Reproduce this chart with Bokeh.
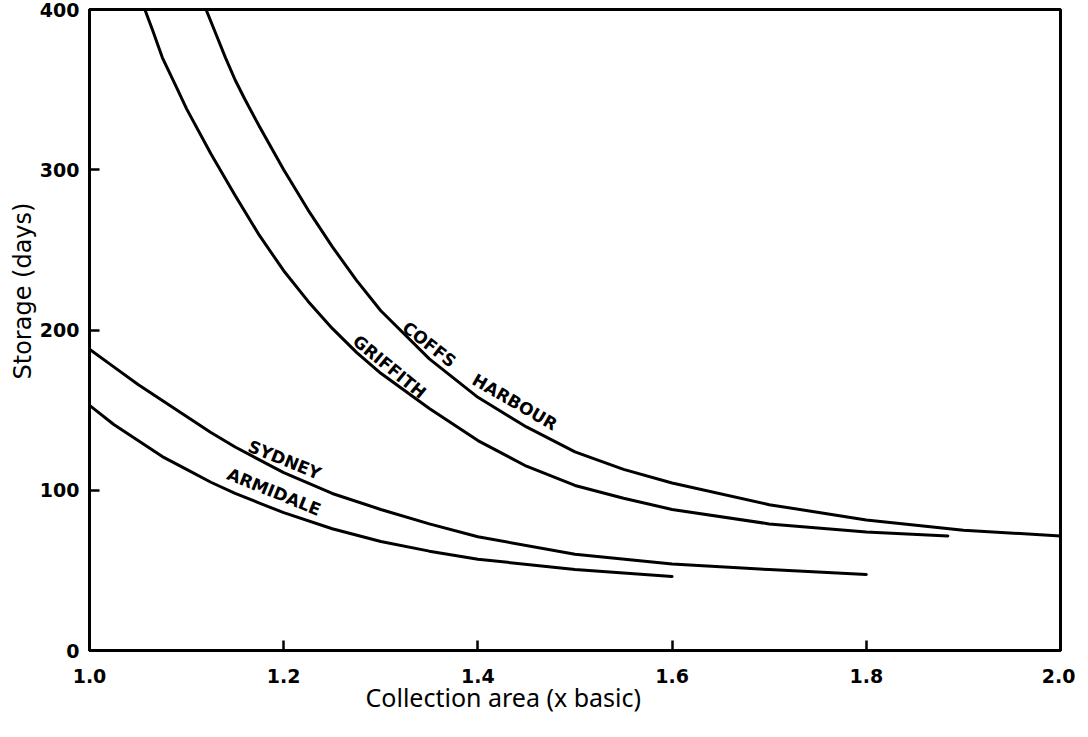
from bokeh.plotting import figure
from bokeh.models import Range1d, FixedTicker, Title
from bokeh.core.properties import value
from bokeh.embed import file_html
from bokeh.resources import INLINE
import math

# ---- data ----
coffs_x = [1.12, 1.13, 1.14, 1.15, 1.16, 1.175, 1.20, 1.225, 1.25, 1.275, 1.30, 1.35, 1.40, 1.45,
           1.50, 1.55, 1.60, 1.70, 1.80, 1.90, 2.00]
coffs_y = [400, 385, 370, 356, 344, 327, 300, 275, 252, 231, 212, 182, 158, 139.5,
           124, 113, 104.5, 91, 81.5, 75, 71.5]

griffith_x = [1.057, 1.065, 1.075, 1.09, 1.10, 1.125, 1.15, 1.175, 1.20, 1.225, 1.25, 1.275, 1.30,
              1.35, 1.40, 1.45, 1.50, 1.55, 1.60, 1.70, 1.80, 1.884]
griffith_y = [400, 387, 370, 351, 338, 310, 284, 259, 237, 218, 201, 186, 173,
              151, 131, 115, 103, 95, 88, 79, 74, 71.5]

sydney_x = [1.00, 1.025, 1.05, 1.075, 1.10, 1.125, 1.15, 1.175, 1.20, 1.25, 1.30, 1.35, 1.40,
            1.50, 1.60, 1.70, 1.80]
sydney_y = [188, 177, 166, 156, 146, 136, 127, 119, 111, 98, 88, 79, 71,
            60, 54, 50.5, 47.5]

armidale_x = [1.00, 1.025, 1.05, 1.075, 1.10, 1.125, 1.15, 1.175, 1.20, 1.25, 1.30, 1.35, 1.40,
              1.50, 1.60]
armidale_y = [153, 141, 131, 121, 113, 105, 98, 92, 86, 76, 68, 62, 57,
              50.5, 46.2]

x_ticks = [1.0, 1.2, 1.4, 1.6, 1.8, 2.0]
x_tick_labels = ["1.0", "1.2", "1.4", "1.6", "1.8", "2.0"]
y_ticks = [0, 100, 200, 300, 400]
y_tick_labels = ["0", "100", "200", "300", "400"]

curve_labels = ["COFFS", "HARBOUR", "GRIFFITH", "SYDNEY", "ARMIDALE"]
label_x = [1.350, 1.438, 1.309, 1.201, 1.190]
label_y = [191, 155, 177, 119, 99]
label_angle_deg = [-38, -30, -39.5, -22, -22]

x_title = "Collection area (x basic)"
y_title = "Storage (days)"

# ---- figure ----
p = figure(width=1075, height=720, output_backend="svg", toolbar_location=None,
           x_range=Range1d(1.0, 2.0), y_range=Range1d(0, 400),
           min_border_left=89, min_border_right=15, min_border_top=9, min_border_bottom=70)
p.background_fill_color = "white"
p.border_fill_color = "white"
p.outline_line_color = "black"
p.outline_line_width = 3
p.xgrid.visible = False
p.ygrid.visible = False

for ax, ticks, labels, standoff in [(p.xaxis[0], x_ticks, x_tick_labels, 18),
                                     (p.yaxis[0], y_ticks, y_tick_labels, 10)]:
    ax.ticker = FixedTicker(ticks=ticks)
    ax.major_label_overrides = {t: l for t, l in zip(ticks, labels)}
    ax.major_tick_in = 10
    ax.major_tick_out = 0
    ax.minor_tick_in = 0
    ax.minor_tick_out = 0
    ax.major_tick_line_width = 2.5
    ax.axis_line_width = 3
    ax.axis_line_color = "black"
    ax.major_label_text_font = "DejaVu Sans"
    ax.major_label_text_font_style = "bold"
    ax.major_label_text_font_size = "19px"
    ax.major_label_text_color = "black"
    ax.major_label_standoff = standoff

for xs, ys in [(coffs_x, coffs_y), (griffith_x, griffith_y),
               (sydney_x, sydney_y), (armidale_x, armidale_y)]:
    p.line(xs, ys, line_color="black", line_width=3, line_join="round", line_cap="round")

p.text(x=label_x, y=label_y, text=curve_labels,
       angle=[math.radians(a) for a in label_angle_deg],
       text_font=value("DejaVu Sans"), text_font_style="bold",
       text_font_size="17px", text_align="center", text_baseline="middle",
       text_color="black")

p.add_layout(Title(text=x_title, align="left", offset=276, standoff=-16,
                   text_font="Noto Sans", text_font_size="25px", text_font_style="normal",
                   text_color="black"), "below")
p.add_layout(Title(text=y_title, align="left", offset=271, standoff=0,
                   text_font="DejaVu Sans", text_font_size="24px", text_font_style="normal",
                   text_color="black"), "left")

open("out.html", "w").write(file_html(p, INLINE))
